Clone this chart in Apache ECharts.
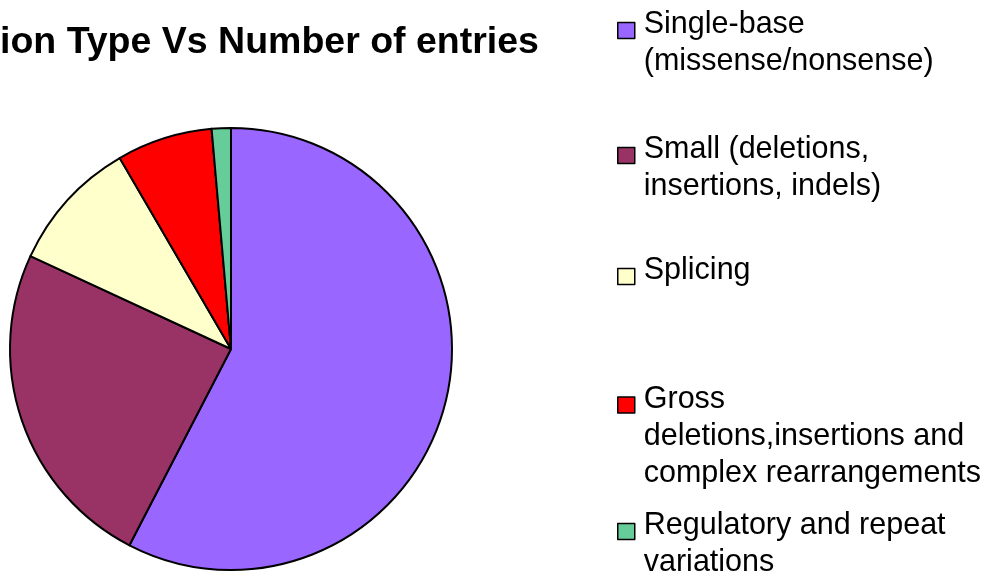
<!DOCTYPE html>
<html>
<head>
<meta charset="utf-8">
<script src="https://cdn.jsdelivr.net/npm/echarts@6/dist/echarts.min.js"></script>
<style>
  html, body { margin: 0; padding: 0; background: #fff; }
  #chart { width: 985px; height: 573px; }
</style>
</head>
<body>
<div id="chart"></div>
<script>
const categories = [
  'Single-base (missense/nonsense)',
  'Small (deletions, insertions, indels)',
  'Splicing',
  'Gross deletions,insertions and complex rearrangements',
  'Regulatory and repeat variations'
]
// legend text as it wraps in the picture
const legendLines = [
  ['Single-base', '(missense/nonsense)'],
  ['Small (deletions,', 'insertions, indels)'],
  ['Splicing'],
  ['Gross', 'deletions,insertions and', 'complex rearrangements'],
  ['Regulatory and repeat', 'variations']
]
const values = [57.6, 24.3, 9.7, 7.0, 1.4]
const colors = ['#9966FF', '#993366', '#FFFFCC', '#FF0000', '#66CC99']

const iconCenters = [30, 155, 276, 404, 531]
const lineH = 37
const iconDrop = 11
// distance from legend top to icon centre, by line count (measured)
const iconOffset = { 1: 24, 2: 37, 3: 55 }

// one legend per item so the icon sits by the first line
const legends = categories.map((name, i) => {
  const n = legendLines[i].length
  const padTop = n > 1 ? (n - 1) * lineH - iconDrop : 0
  const padBottom = n > 1 ? 0 : iconDrop
  return {
    data: [name],
    orient: 'vertical',
    left: 617,
    top: iconCenters[i] - iconOffset[n],
    padding: 0,
    icon: 'rect',
    itemWidth: 17,
    itemHeight: 16,
    selectedMode: false,
    itemStyle: { borderColor: '#000', borderWidth: 1.5 },
    formatter: () => '{p| }\n' + legendLines[i].map(s => '{t|' + s + '}').join('\n') + '\n{q| }',
    textStyle: {
      color: '#000',
      rich: {
        p: { fontSize: 1, lineHeight: padTop },
        q: { fontSize: 1, lineHeight: padBottom },
        t: {
          fontFamily: 'Liberation Sans, Arial, sans-serif',
          fontSize: 30.5,
          lineHeight: lineH,
          padding: [0, 0, 0, 4],
          color: '#000'
        }
      }
    }
  }
})

const myChart = echarts.init(document.getElementById('chart'))
myChart.setOption({
  animation: false,
  title: {
    text: 'Mutation Type Vs Number of entries',
    left: -100,
    top: 24,
    padding: 0,
    textStyle: {
      fontFamily: 'Liberation Sans, Arial, sans-serif',
      fontSize: 37.5,
      fontWeight: 'bold',
      color: '#000'
    }
  },
  legend: legends,
  series: [
    {
      type: 'pie',
      center: [231, 349],
      radius: 221,
      startAngle: 90,
      clockwise: true,
      label: { show: false },
      labelLine: { show: false },
      emphasis: { disabled: true },
      itemStyle: { borderColor: '#000', borderWidth: 2 },
      data: categories.map((name, i) => ({
        name: name,
        value: values[i],
        itemStyle: { color: colors[i] }
      }))
    }
  ]
})
</script>
</body>
</html>
